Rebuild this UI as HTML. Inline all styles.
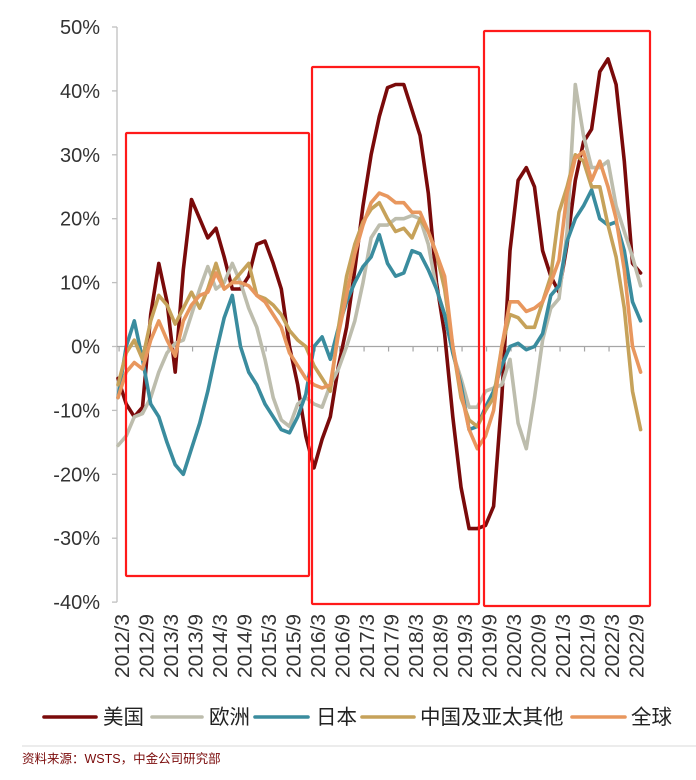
<!DOCTYPE html>
<html><head><meta charset="utf-8">
<style>
html,body{margin:0;padding:0;background:#fff;}
body{width:696px;height:780px;overflow:hidden;position:relative;font-family:"Liberation Sans","Noto Sans CJK SC",sans-serif;}
svg{position:absolute;left:0;top:0;}
</style></head>
<body>
<svg id="chart" width="696" height="780" viewBox="0 0 696 780" xmlns="http://www.w3.org/2000/svg"></svg>
<script>
// Data: bi-monthly samples from 2012/2 to 2022/10 (YoY %)
const seriesNames = ["美国","欧洲","日本","中国及亚太其他","全球"];
const usValues = [-5,-9,-11,-9.5,5,13,7,-4,12,23,20,17,18.5,14,9,9,11,16,16.5,13,9,0,-6,-14,-19,-14.5,-11,-3,3,12,22,30,36,40.5,41,41,37,33,24,10,2,-11,-22,-28.5,-28.5,-28,-25,-8,15,26,28,25,15,11,8.5,16,26,32,34,43,45,41,29,13,11.5];
const euValues = [-15.5,-14,-11,-10.5,-8,-4,-1,0.5,1,5,9,12.5,9,10,13,10,6,3,-2,-8,-11.5,-12.5,-9,-8,-9,-9.5,-6,-3.5,0,4,10,17,19,19,20,20,20.5,20,16,9,5,-1,-5,-9.5,-9.5,-7,-6.5,-6,-2,-12,-16,-8,1,6,7.5,18,41,33,28,28,29,22,18,14,9.5];
const jpValues = [-8,0,4,-2,-9,-11,-15,-18.5,-20,-16,-12,-7,-1,4.5,8,0,-4,-6,-9,-11,-13,-13.5,-11,-7.5,0,1.5,-2,3,7,10,12.5,14,17.5,13,11,11.5,15,14.5,12,9,5,-1,-6,-13,-12.5,-9.5,-7,-3,0,0.5,-0.5,0,2,8,9.5,16.5,20,22,24.5,20,19,19.5,15,7,4];
const apValues = [-6,-1,1,-2,4,8,6.5,3.5,6,8.5,6,9,13,9,10,11.5,13,8,7.5,6.5,5,2.5,1,0,-3,-5,-7,3,11,16,19.5,21.5,22.5,20,18,18.5,17,20,18,14.5,9,0,-8,-11.5,-12.5,-10,-8,0,5,4.5,3,3,7,11,21,25,30,29,25,25,19,14,6,-7,-13];
const glValues = [-8,-4,-2.5,-3.5,1,4,1,-1.5,4,6.5,8,8.5,11.5,9,10,10,9.5,8,7,5,3,-1,-3,-5,-6,-6.5,-6,2,8,14.5,19,22.5,24,23.5,22.5,22.5,21,21,18,14.5,11,0,-7,-13,-16,-14,-10,0,7,7,5.5,6,7,10,13.5,24,29.5,30.5,26,29,25,20,12,0,-4];
const yTickValues = [50,40,30,20,10,0,-10,-20,-30,-40];
const xTickLabels = ["2012/3","2012/9","2013/3","2013/9","2014/3","2014/9","2015/3","2015/9","2016/3","2016/9","2017/3","2017/9","2018/3","2018/9","2019/3","2019/9","2020/3","2020/9","2021/3","2021/9","2022/3","2022/9"];

const svg = document.getElementById('chart');
const NS = 'http://www.w3.org/2000/svg';
const colors = ["#7a0a0a","#bdbdad","#3a8c9e","#c6a25a","#e8975e"];
const names = ["us-line","europe-line","japan-line","asia-pacific-line","global-line"];
const allSeries = [usValues,euValues,jpValues,apValues,glValues];

// axis functions
const y0 = 346.5, pxPer10 = 63.9;
function yScale(v){ return y0 - v * pxPer10 / 10; }
const monthPx = 4.083;
const xStart = 118; // 2012/2
function xScaleMonth(m){ return xStart + m * monthPx; } // m months after 2012/2
function xSample(i){ return xScaleMonth(i*2); }

function mk(tag, attrs){ const e = document.createElementNS(NS, tag); for (const k in attrs) e.setAttribute(k, attrs[k]); return e; }

// y axis
const axisX = 117;
const ya = mk('line',{x1:axisX,y1:yScale(50),x2:axisX,y2:yScale(-40),stroke:'#bfbfbf','stroke-width':1.3});


svg.appendChild(ya);
yTickValues.forEach(v=>{
  const t = mk('line',{x1:axisX-5,y1:yScale(v),x2:axisX,y2:yScale(v),stroke:'#bfbfbf','stroke-width':1.3});
  
  
  svg.appendChild(t);
  const l = mk('text',{x:100,y:yScale(v)+7,'text-anchor':'end','font-size':20,fill:'#333'});
  l.textContent = v + '%';
  
  
  svg.appendChild(l);
});
// zero line
const zl = mk('line',{x1:axisX,y1:yScale(0),x2:645,y2:yScale(0),stroke:'#a6a6a6','stroke-width':1.3});


svg.appendChild(zl);
// x ticks and labels
xTickLabels.forEach((lab,k)=>{
  const x = xScaleMonth(1 + 6*k);
  const t = mk('line',{x1:x-3,y1:yScale(0),x2:x-3,y2:yScale(0)+5,stroke:'#a6a6a6','stroke-width':1.2});
  
  
  svg.appendChild(t);
  const tx = mk('text',{x:0,y:0,'text-anchor':'end','font-size':20,fill:'#333',textLength:64,lengthAdjust:'spacingAndGlyphs',transform:`translate(${x+7},614) rotate(-90)`});
  tx.textContent = lab;
  
  
  svg.appendChild(tx);
});
// series lines
allSeries.forEach((vals,si)=>{
  const d = vals.map((v,i)=>(i?'L':'M')+xSample(i).toFixed(1)+','+yScale(v).toFixed(1)).join(' ');
  const p = mk('path',{d:d,fill:'none',stroke:colors[si],'stroke-width':3.6,'stroke-linejoin':'round','stroke-linecap':'round'});
  
  
  svg.appendChild(p);
});
// highlight boxes
[[126,133,309,576],[312,67,479,604],[484,31,650,606]].forEach((b,i)=>{
  const r = mk('rect',{x:b[0],y:b[1],width:b[2]-b[0],height:b[3]-b[1],fill:'none',stroke:'#ff1a1a','stroke-width':2.2,rx:1});
  
  
  svg.appendChild(r);
});
// legend
const legendPos = [[44,96,103],[152,202,209],[255,308,316],[362,414,420],[572,625,631]];
seriesNames.forEach((n,i)=>{
  const g = mk('g',{});
  
  
  const lp = legendPos[i];
  g.appendChild(mk('line',{x1:lp[0],y1:717,x2:lp[1],y2:717,stroke:colors[i],'stroke-width':3.6,'stroke-linecap':'round'}));
  const t = mk('text',{x:lp[2],y:724,'font-size':20.5,fill:'#222'});
  t.textContent = n;
  g.appendChild(t);
  svg.appendChild(g);
});
// separator and source
const sep = mk('line',{x1:22,y1:746,x2:696,y2:746,stroke:'#d9d9d9','stroke-width':1});


svg.appendChild(sep);
const src = mk('text',{x:22,y:763,'font-size':12.5,fill:'#7a0a0a'});
src.textContent = '资料来源：WSTS，中金公司研究部';


svg.appendChild(src);
</script>
</body></html>
